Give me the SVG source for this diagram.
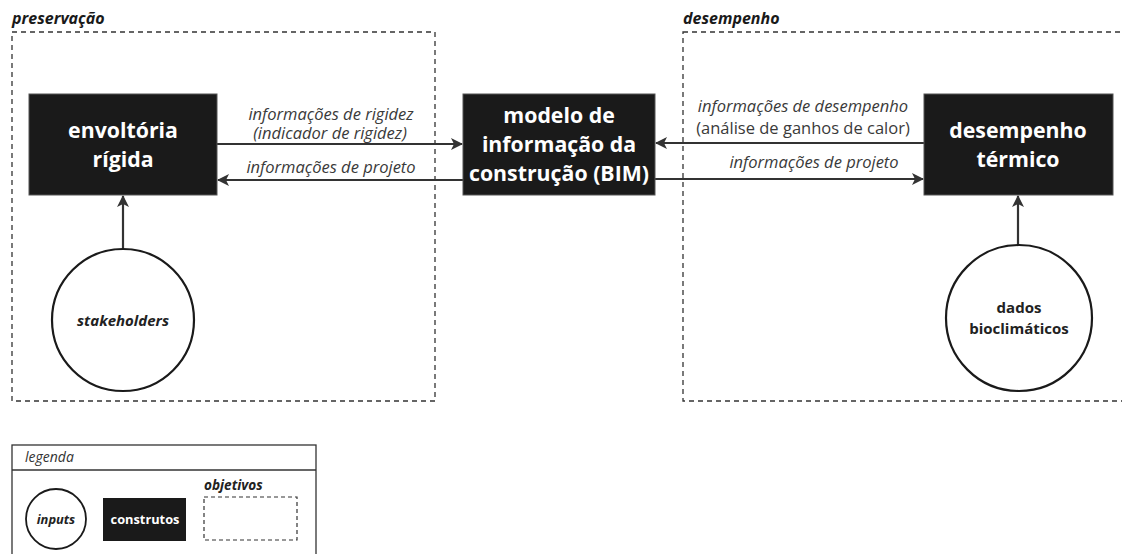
<svg xmlns="http://www.w3.org/2000/svg" width="1122" height="554" viewBox="0 0 1122 554">
<style>
text{font-family:"Open Sans","Noto Sans",sans-serif;}
.box{fill:#1a1a1a;stroke:#555;stroke-width:1;}
.btxt{fill:#fff;font-weight:bold;font-size:21.3px;text-anchor:middle;}
.grp{fill:none;stroke:#333;stroke-width:1.3;stroke-dasharray:5,4;}
.ttl{font-weight:bold;font-style:italic;font-size:16px;fill:#1a1a1a;}
.lbl{font-style:italic;font-size:16.5px;fill:#3a3a3a;text-anchor:middle;}
.lblr{font-size:16.5px;fill:#3a3a3a;text-anchor:middle;}
.circ{fill:#fff;stroke:#1a1a1a;stroke-width:2.2;}
.ctxt{font-weight:bold;font-size:15px;fill:#222;text-anchor:middle;}
.con{stroke:#333;stroke-width:2.2;fill:none;marker-end:url(#ah);}
</style>
<defs>
<marker id="ah" viewBox="0 0 12 12" refX="11" refY="6" markerWidth="12" markerHeight="12" markerUnits="userSpaceOnUse" orient="auto">
<path d="M0,0 L12,6 L0,12 L3,6 Z" fill="#333"/>
</marker>
</defs>
<rect width="1122" height="554" fill="#fff"/>
<g id="group-preservacao">
<rect class="grp" x="12" y="32" width="423" height="369"/>
<text class="ttl" x="12" y="24">preservação</text>
</g>
<g id="group-desempenho">
<rect class="grp" x="683" y="32" width="460" height="369"/>
<text class="ttl" x="683" y="24">desempenho</text>
</g>
<g id="connectors">
<line class="con" x1="217" y1="144" x2="462" y2="144"/>
<line class="con" x1="463" y1="180" x2="218" y2="180"/>
<line class="con" x1="924" y1="143" x2="656" y2="143"/>
<line class="con" x1="655" y1="179" x2="923" y2="179"/>
<line class="con" x1="123" y1="248" x2="123" y2="196"/>
<line class="con" x1="1018" y1="244" x2="1018" y2="196"/>
<text class="lbl" x="331" y="120">informações de rigidez</text>
<text class="lbl" x="330" y="139">(indicador de rigidez)</text>
<text class="lbl" x="331" y="173">informações de projeto</text>
<text class="lbl" x="803" y="112">informações de desempenho</text>
<text class="lblr" x="803" y="134">(análise de ganhos de calor)</text>
<text class="lbl" x="814" y="168">informações de projeto</text>
</g>
<g id="node-envoltoria">
<rect class="box" x="29" y="94" width="188" height="101"/>
<text class="btxt" x="123" y="138">envoltória</text>
<text class="btxt" x="123" y="167">rígida</text>
</g>
<g id="node-bim">
<rect class="box" x="463" y="94" width="192" height="101"/>
<text class="btxt" x="559" y="123">modelo de</text>
<text class="btxt" x="559" y="152">informação da</text>
<text class="btxt" x="559" y="181">construção (BIM)</text>
</g>
<g id="node-desempenho">
<rect class="box" x="924" y="94" width="189" height="101"/>
<text class="btxt" x="1018" y="138">desempenho</text>
<text class="btxt" x="1018" y="167">térmico</text>
</g>
<g id="node-stakeholders">
<circle class="circ" cx="123" cy="320" r="71"/>
<text class="ctxt" x="123" y="326" font-style="italic">stakeholders</text>
</g>
<g id="node-dados">
<circle class="circ" cx="1019" cy="318" r="73"/>
<text class="ctxt" x="1019" y="313">dados</text>
<text class="ctxt" x="1019" y="334">bioclimáticos</text>
</g>
<g id="legend">
<rect x="12" y="445" width="304" height="120" fill="#fff" stroke="#333" stroke-width="1.3"/>
<line x1="12" y1="470" x2="316" y2="470" stroke="#333" stroke-width="1.3"/>
<text x="25" y="462" font-style="italic" font-size="14" fill="#333">legenda</text>
<circle cx="56" cy="519" r="30" fill="#fff" stroke="#1a1a1a" stroke-width="1.8"/>
<text x="56" y="524" font-weight="bold" font-style="italic" font-size="12.9" fill="#222" text-anchor="middle">inputs</text>
<rect x="103" y="498" width="83" height="43" fill="#1a1a1a"/>
<text x="145" y="524" font-weight="bold" font-size="12.8" fill="#fff" text-anchor="middle">construtos</text>
<rect x="204" y="497" width="93" height="43" fill="none" stroke="#333" stroke-width="1.2" stroke-dasharray="4,3"/>
<text x="204" y="490" font-weight="bold" font-style="italic" font-size="13.6" fill="#222">objetivos</text>
</g>
</svg>
